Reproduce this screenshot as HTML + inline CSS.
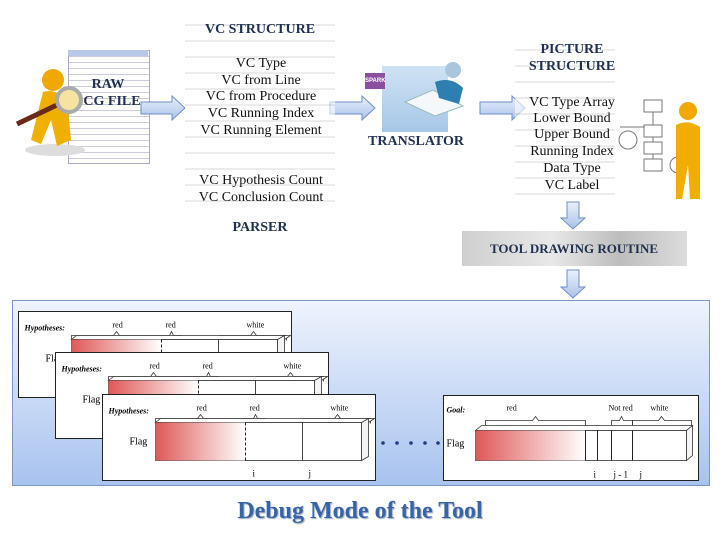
<!DOCTYPE html>
<html><head><meta charset="utf-8"><style>
body{margin:0;width:720px;height:540px;background:#fff;position:relative;overflow:hidden;font-family:"Liberation Serif",serif}
.a{position:absolute}
.t{position:absolute;font-size:14px;color:#111;white-space:nowrap;transform:translateX(-50%)}
.b{font-weight:bold;color:#1f3050;font-size:14px}
.code{position:absolute;background:repeating-linear-gradient(#fff 0 9px,#e0e0e0 9px 11px,#fff 11px 16px)}
</style></head><body>
<!-- raw file -->
<div class="a" style="left:68px;top:50px;width:80px;height:112px;border:1px solid #aac;background:repeating-linear-gradient(#fff 0 5px,#ccd 5px 6px);"></div>
<div class="a" style="left:68px;top:50px;width:80px;height:6px;background:#b8c8e8"></div>
<svg class="a" style="left:15px;top:60px" width="70" height="100"><ellipse cx="40" cy="90" rx="30" ry="6" fill="#ddd"/><circle cx="38" cy="20" r="11" fill="#f0a800"/><path d="M28 32 Q40 28 52 40 L56 80 L42 86 L36 60 L26 84 L16 80 Z" fill="#f0b000"/><line x1="2" y1="64" x2="44" y2="44" stroke="#6a2a1a" stroke-width="5"/><circle cx="54" cy="40" r="12" fill="#f7e3a0" stroke="#aaa" stroke-width="4"/></svg>
<div class="t b" style="left:108px;top:77px">RAW</div>
<div class="t b" style="left:112px;top:94px">CG FILE</div>
<!-- arrows -->
<svg class="a" style="left:0;top:0" width="720" height="300">
<defs><linearGradient id="ag" x1="0" y1="0" x2="0" y2="1"><stop offset="0" stop-color="#eaf1fc"/><stop offset="1" stop-color="#a9c2ea"/></linearGradient></defs>
<g fill="url(#ag)" stroke="#6f8fc4" stroke-width="1">
<path d="M141 102 H172 V96 L185 108 L172 120 V114 H141 Z"/>
<path d="M330 102 H362 V96 L375 108 L362 120 V114 H330 Z"/>
<path d="M480 102 H512 V96 L525 108 L512 120 V114 H480 Z"/>
<path d="M567 202 H579 V218 H585 L573 229 L561 218 H567 Z"/>
<path d="M567 270 H579 V287 H585 L573 298 L561 287 H567 Z"/>
</g></svg>
<!-- VC structure -->
<div class="code" style="left:185px;top:15px;width:150px;height:195px;opacity:.6"></div>
<div class="t b" style="left:260px;top:22px">VC STRUCTURE</div>
<div class="t" style="left:261px;top:56px">VC Type</div>
<div class="t" style="left:261px;top:73px">VC from Line</div>
<div class="t" style="left:261px;top:89px">VC from Procedure</div>
<div class="t" style="left:261px;top:106px">VC Running Index</div>
<div class="t" style="left:261px;top:123px">VC Running Element</div>
<div class="t" style="left:261px;top:173px">VC Hypothesis Count</div>
<div class="t" style="left:261px;top:190px">VC Conclusion Count</div>
<div class="t b" style="left:260px;top:220px">PARSER</div>
<!-- translator -->
<div class="a" style="left:382px;top:66px;width:66px;height:66px;background:linear-gradient(#cfe2f4,#a7c7e8)"></div>
<svg class="a" style="left:385px;top:60px" width="90" height="60"><path d="M20 42 L48 30 L78 46 L50 56 Z" fill="#f4f8fb" stroke="#9bb"/><circle cx="68" cy="10" r="8" fill="#a8c6de"/><path d="M50 22 Q66 16 78 28 L74 44 L54 38 Z" fill="#2c7fb0"/></svg>
<div class="a" style="left:365px;top:73px;width:20px;height:16px;background:#8a4f9e;color:#fff;font:bold 6px 'Liberation Sans',sans-serif;line-height:16px">SPARK</div>
<div class="t b" style="left:416px;top:134px">TRANSLATOR</div>
<!-- picture structure -->
<div class="code" style="left:515px;top:40px;width:100px;height:160px;opacity:.6"></div>
<div class="t b" style="left:572px;top:42px">PICTURE</div>
<div class="t b" style="left:572px;top:59px">STRUCTURE</div>
<div class="t" style="left:572px;top:95px">VC Type Array</div>
<div class="t" style="left:572px;top:111px">Lower Bound</div>
<div class="t" style="left:572px;top:127px">Upper Bound</div>
<div class="t" style="left:572px;top:144px">Running Index</div>
<div class="t" style="left:572px;top:161px">Data Type</div>
<div class="t" style="left:572px;top:178px">VC Label</div>
<svg class="a" style="left:618px;top:95px" width="95" height="110"><g fill="none" stroke="#777"><rect x="26" y="5" width="18" height="12"/><rect x="26" y="30" width="18" height="12"/><rect x="26" y="47" width="18" height="12"/><rect x="26" y="64" width="18" height="12"/><circle cx="10" cy="45" r="9"/><circle cx="60" cy="70" r="8"/><path d="M35 17V30M35 42V47M35 59V64M2 32H26"/></g><circle cx="70" cy="16" r="9" fill="#f2a800"/><path d="M58 30 Q70 24 82 32 L82 104 L72 104 L70 70 L64 104 L58 104 Z" fill="#f2ae00"/></svg>
<!-- tool drawing -->
<div class="a" style="left:462px;top:231px;width:225px;height:35px;background:linear-gradient(90deg,#cfcfcf,#e8e8e8 40%,#bdbdbd 70%,#dcdcdc)"></div>
<div class="t b" style="left:574px;top:241px;font-size:13px">TOOL DRAWING ROUTINE</div>
<!-- debug panel -->
<div class="a" style="left:12px;top:300px;width:698px;height:186px;border:1px solid #7d97c4;box-sizing:border-box;background:linear-gradient(#eef3fd,#a8c3ef)"></div>
<svg class="a" style="left:0;top:0" width="720" height="540" font-family="Liberation Serif,serif">
<defs><linearGradient id="rg"><stop offset="0" stop-color="#e05858"/><stop offset="1" stop-color="#fff"/></linearGradient>
<g id="pn"><rect x="0" y="0" width="273" height="86" fill="#fff" stroke="#222"/>
<text x="6" y="19" font-size="8" font-style="italic" font-weight="bold">Hypotheses:</text>
<text x="94" y="16" font-size="8">red</text><text x="147" y="16" font-size="8">red</text><text x="228" y="16" font-size="8">white</text>
<g fill="none" stroke="#333" stroke-width=".8"><path d="M53 29 V24 H95 L98 20 L101 24 H143 V29"/><path d="M143 29 V24 H151 L153 20 L155 24 H163 V29"/><path d="M201 29 V24 H232 L235 20 L238 24 H268 V29"/></g>
<path d="M53 28 L58 24 H272 L266 28 Z" fill="#fff" stroke="#333" stroke-width=".8"/>
<path d="M259 28 L266 24 V62 L259 66 Z" fill="#f4f4f4" stroke="#333" stroke-width=".8"/>
<rect x="53" y="28" width="206" height="38" fill="#fff" stroke="#333" stroke-width=".8"/>
<rect x="53" y="28" width="90" height="38" fill="url(#rg)"/>
<line x1="143" y1="28" x2="143" y2="66" stroke="#222" stroke-dasharray="3,2"/><line x1="200" y1="28" x2="200" y2="66" stroke="#444"/>
<text x="27" y="50" font-size="10">Flag</text><text x="150" y="82" font-size="9">i</text><text x="206" y="82" font-size="9">j</text></g></defs>
<use href="#pn" x="18.5" y="311.5"/><use href="#pn" x="55.5" y="352.5"/><use href="#pn" x="102.5" y="394.5"/>
<g fill="#1f3a80"><circle cx="383" cy="443" r="1.8"/><circle cx="397" cy="443" r="1.8"/><circle cx="411" cy="443" r="1.8"/><circle cx="425" cy="443" r="1.8"/><circle cx="438" cy="443" r="1.8"/></g>
<g transform="translate(443.5,395.5)"><rect width="255" height="85" fill="#fff" stroke="#222"/>
<text x="3" y="17" font-size="8" font-style="italic" font-weight="bold">Goal:</text>
<text x="63" y="15" font-size="8">red</text><text x="165" y="15" font-size="8">Not red</text><text x="207" y="15" font-size="8">white</text>
<g fill="none" stroke="#333" stroke-width=".8"><path d="M42 30 V25 H89 L92 21 L95 25 H142 V30"/><path d="M168 30 V25 H176 L178 21 L180 25 H189 V30"/><path d="M189 30 V25 H215 L218 21 L221 25 H248 V30"/></g>
<path d="M32 35 L38 30 H249 L243 35 Z" fill="#fff" stroke="#333" stroke-width=".8"/>
<path d="M243 35 L249 30 V60 L243 65 Z" fill="#f4f4f4" stroke="#333" stroke-width=".8"/>
<rect x="32" y="35" width="211" height="30" fill="#fff" stroke="#333" stroke-width=".8"/>
<rect x="32" y="35" width="110" height="30" fill="url(#rg)"/>
<g stroke="#222"><line x1="142" y1="35" x2="142" y2="65"/><line x1="154" y1="35" x2="154" y2="65"/><line x1="168" y1="35" x2="168" y2="65"/><line x1="189" y1="35" x2="189" y2="65"/></g>
<text x="3" y="51" font-size="10">Flag</text><text x="150" y="82" font-size="9">i</text><text x="170" y="82" font-size="9">j - 1</text><text x="196" y="82" font-size="9">j</text></g>
</svg>
<div class="t" style="left:360px;top:498px;font-size:24px;font-weight:bold;color:#3a64a8;text-shadow:1px 1px 1px #9ab">Debug Mode of the Tool</div>
</body></html>
